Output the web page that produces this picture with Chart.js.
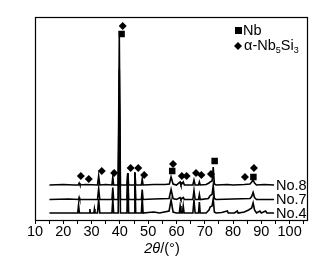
<!DOCTYPE html>
<html><head><meta charset="utf-8">
<script src="https://cdn.jsdelivr.net/npm/chart.js@4.4.0/dist/chart.umd.min.js"></script>
<style>html,body{margin:0;padding:0;background:#fff}canvas{display:block}</style>
</head><body>
<canvas id="c" width="331" height="270"></canvas>
<script>
// ---- data ----
const tickValues = [10,15,20,25,30,35,40,45,50,55,60,65,70,75,80,85,90,95,100,105];
const tickLabels = ['10','20','30','40','50','60','70','80','90','100'];
const seriesNames = ['No.8','No.7','No.4'];
const seriesOffsets = [36, 21.5, 8];

// [2θ, intensity above own baseline]
const no8 = [[15.1,0],[20,0.5],[24,0],[25.3,0],[25.6,2],[25.9,0],[28,0.5],[32.1,0],[32.5,9],[32.9,0],[35,0.5],[37.2,0],[37.5,8],[37.8,0],[39.4,0],[39.8,148],[40.2,0],[42.5,0],[42.8,12],[43.1,0],[45.0,0],[45.3,13],[45.6,0],[47.6,0],[47.9,6],[48.2,0],[52,0.5],[56,0.5],[57.5,1],[58.1,8],[58.8,1],[60,0],[61.3,3],[61.6,0],[62.4,3],[62.8,0],[65.8,0],[66.2,5],[66.6,0],[67.8,0],[68.1,3],[68.4,0],[70.5,0.5],[71.5,2],[71.9,3],[72.6,4],[73.0,18],[73.4,1],[74,0],[78,0.5],[80,0],[84,0.5],[86,1],[86.6,3],[87.1,5],[87.6,2],[88.3,0],[91,0.5],[94.5,0]];
const no7 = [[15.1,0],[22,0.5],[25.4,0],[25.6,2],[25.8,0],[29,0],[32.1,0],[32.5,11],[32.9,0],[37.2,0],[37.5,12],[37.8,0],[39.4,0],[39.8,130],[40.2,0],[42.5,0],[42.8,26],[43.1,0],[45.0,0],[45.3,26],[45.6,0],[47.6,0],[47.9,10],[48.2,0],[52,0.5],[57.4,1],[58.1,10],[58.8,1],[60,0],[61.3,2],[61.6,0],[62.4,2],[62.8,0],[65.8,0],[66.2,9],[66.6,0],[67.8,0],[68.1,5],[68.4,0],[71.3,1],[71.9,4],[72.6,5],[73.0,14],[73.4,1],[74,0],[80,0.5],[86,1],[86.6,3],[87.1,7],[87.6,2],[88.3,0],[94.5,0]];
const no4 = [[15.1,0],[20,0],[25.1,0],[25.4,8],[25.7,0],[27,0],[29.2,0],[29.4,4],[29.6,0],[30.8,0],[31.0,4],[31.2,0],[32.1,0],[32.5,14],[32.9,0],[37.2,0],[37.5,14],[37.8,0],[39.4,0],[39.8,110],[40.2,0],[42.5,0],[42.8,40],[43.1,0],[45.0,0],[45.3,40],[45.6,0],[47.6,0],[47.9,16],[48.2,0],[50,0.5],[52,1],[54,0],[57.4,2],[58.1,13],[58.8,1],[60,0],[61.0,0],[61.3,7],[61.6,0],[62.1,0],[62.4,7],[62.7,0],[65.8,0],[66.2,13],[66.6,0],[67.8,0],[68.1,11],[68.4,0],[70.5,0],[71.5,3],[71.9,6],[72.6,7],[73.0,14],[73.4,1],[74,0],[76,0.5],[78,2],[78.3,0],[80.5,0],[81.5,2],[81.8,0],[84,1],[85.5,3],[86.6,5],[87.1,10],[87.6,3],[88.3,0],[89.5,2],[90,0],[91.5,2],[92,0],[94.5,0]];

// phase markers [2θ, height on plot]
const nbPeaks = [[40.6,187],[58.5,50],[73.5,60],[87.2,44]];
const nb5si3Peaks = [[41.0,195],[26.2,45],[29.0,42],[33.6,50],[38.0,48],[43.8,53],[46.5,53],[48.6,46],[58.8,57],[61.9,45],[63.6,45],[66.9,48],[68.8,46],[72.2,47],[84.2,44],[87.4,53]];

const traces = [no8, no7, no4];
const toXY = (arr, off) => arr.map(p => ({x: p[0], y: p[1] + off}));

const traceSets = traces.map((t, i) => ({
  label: seriesNames[i], data: toXY(t, seriesOffsets[i]),
  borderColor: '#000', borderWidth: 1.6, pointRadius: 0, fill: false, tension: 0
}));

const FONT = '"Liberation Sans", Arial, sans-serif';

const decor = {
  id: 'decor',
  beforeDraw(chart) {
    const c = chart.ctx; c.save(); c.fillStyle = '#fff';
    c.fillRect(0, 0, chart.width, chart.height); c.restore();
  },
  afterDraw(chart) {
    const c = chart.ctx, a = chart.chartArea, xs = chart.scales.x, ys = chart.scales.y;
    c.save();
    c.strokeStyle = '#000'; c.lineWidth = 1.2;
    c.strokeRect(a.left + 0.5, a.top + 0.5, a.right - a.left - 1, a.bottom - a.top - 1);
    // series labels
    c.fillStyle = '#000'; c.font = '14.5px ' + FONT; c.textBaseline = 'middle'; c.textAlign = 'left';
    seriesNames.forEach((n, i) => {
      c.fillText(n, xs.getPixelForValue(95.2), ys.getPixelForValue(seriesOffsets[i]) + 0.5);
    });
    // legend
    const lx = a.left + 200;
    c.fillRect(lx, a.top + 10, 7, 7);
    c.font = '14.5px ' + FONT; c.textBaseline = 'alphabetic';
    c.fillText('Nb', lx + 8, a.top + 18);
    const dy = a.top + 29;
    c.beginPath(); c.moveTo(lx + 3, dy - 4); c.lineTo(lx + 7, dy); c.lineTo(lx + 3, dy + 4); c.lineTo(lx - 1, dy); c.closePath(); c.fill();
    let tx = lx + 9, by = a.top + 33;
    c.fillText('α-Nb', tx, by); tx += c.measureText('α-Nb').width;
    c.font = '9px ' + FONT; c.fillText('5', tx, by + 3); tx += c.measureText('5').width;
    c.font = '14.5px ' + FONT; c.fillText('Si', tx, by); tx += c.measureText('Si').width;
    c.font = '9px ' + FONT; c.fillText('3', tx, by + 3);
    // axis title
    c.textBaseline = 'middle';
    const t1 = '2θ', t2 = '/(°)';
    c.font = 'italic 14.5px ' + FONT; const w1 = c.measureText(t1).width;
    c.font = '14.5px ' + FONT; const w2 = c.measureText(t2).width;
    const cx = a.left + 127, ty = 249;
    c.font = 'italic 14.5px ' + FONT; c.fillText(t1, cx - (w1 + w2) / 2, ty);
    c.font = '14.5px ' + FONT; c.fillText(t2, cx - (w1 + w2) / 2 + w1, ty);
    c.restore();
  }
};

new Chart(document.getElementById('c'), {
  type: 'line',
  data: {
    datasets: [
      { label: 'Nb', data: nbPeaks.map(p => ({x: p[0], y: p[1]})), showLine: false,
        pointStyle: 'rect', pointRadius: 4.6, backgroundColor: '#000', borderColor: '#000', borderWidth: 0 },
      { label: 'α-Nb5Si3', data: nb5si3Peaks.map(p => ({x: p[0], y: p[1]})), showLine: false,
        pointStyle: 'rectRot', pointRadius: 4, backgroundColor: '#000', borderColor: '#000', borderWidth: 0 },
      ...traceSets
    ]
  },
  options: {
    responsive: false, animation: false, devicePixelRatio: 1,
    layout: { padding: { left: 35, right: 23, top: 17, bottom: 0 } },
    plugins: { legend: { display: false }, tooltip: { enabled: false } },
    scales: {
      x: {
        type: 'linear', min: 10, max: 106.5,
        afterBuildTicks: s => { s.ticks = tickValues.map(v => ({value: v})); },
        afterFit: s => { s.height = 49; },
        border: { display: false },
        grid: { drawOnChartArea: false, tickLength: 3, color: '#000', lineWidth: 1 },
        ticks: {
          autoSkip: false, maxRotation: 0, padding: -1, color: '#000',
          font: { family: FONT, size: 14.5 },
          callback: v => tickLabels.includes(String(v)) ? String(v) : ''
        }
      },
      y: { type: 'linear', min: 0, max: 204, display: false }
    }
  },
  plugins: [decor]
});
</script>
</body></html>
